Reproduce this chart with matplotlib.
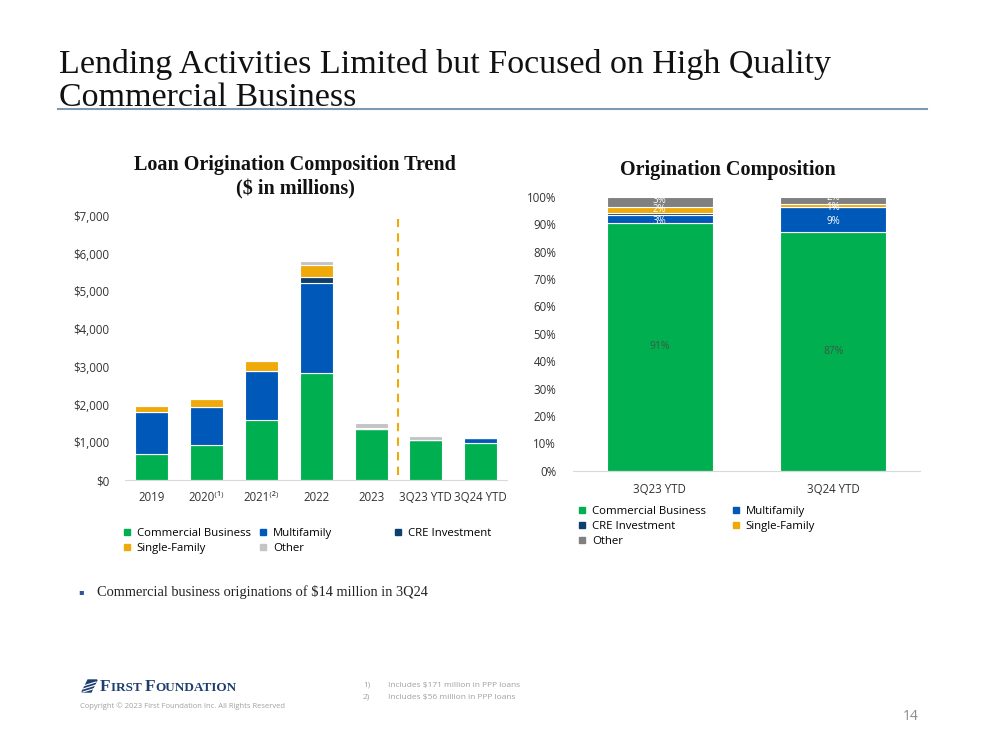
import numpy as np
import matplotlib
matplotlib.use('Agg')
import matplotlib.pyplot as plt
from matplotlib.patches import Polygon
from matplotlib.lines import Line2D

# Left chart: loan originations ($ millions)
periods = ['2019', '2020\u207d\u00b9\u207e', '2021\u207d\u00b2\u207e', '2022', '2023', '3Q23 YTD', '3Q24 YTD']
commercial = [700, 920, 1590, 2840, 1360, 1050, 990]
multifamily = [1100, 1010, 1310, 2385, 0, 0, 120]
cre_invest = [0, 0, 0, 165, 0, 0, 0]
single_fam = [160, 210, 260, 320, 30, 0, 0]
other = [0, 0, 0, 105, 110, 115, 0]

# Right chart: origination composition (%)
comp_periods = ['3Q23 YTD', '3Q24 YTD']
comp_commercial = [90.5, 87.3]
comp_multifamily = [2.8, 9.2]
comp_cre = [0.8, 0.0]
comp_single = [2.4, 0.8]
comp_other = [3.5, 2.7]
comp_labels = {
    'commercial': ['91%', '87%'],
    'multifamily': ['3%', '9%'],
    'single': ['2%', '1%'],
    'other': ['3%', '2%'],
}
# small nudges (in % points) so the thin-segment labels sit where the slide has them
label_nudge = {
    'multifamily': [-0.8, -0.9],
    'single': [0.0, -0.9],
    'other': [0.6, 1.0],
}

GREEN = '#00B050'
BLUE = '#0059B9'
NAVY = '#0F3F6E'
GOLD = '#EFAA0A'
LGRAY = '#C4C4C4'
DGRAY = '#808080'
SANS = ['Open Sans', 'DejaVu Sans']
SERIF = ['Liberation Serif', 'DejaVu Serif']

plt.rcParams['font.family'] = SANS

fig = plt.figure(figsize=(9.99, 7.5), dpi=100)

def fx(px):
    return px / 999.0

def fy(py):
    return 1 - py / 750.0

# page title
fig.text(fx(59), fy(73), 'Lending Activities Limited but Focused on High Quality',
         family=SERIF, fontsize=24.5, color='#111111', va='baseline')
fig.text(fx(59), fy(106), 'Commercial Business',
         family=SERIF, fontsize=24.5, color='#111111', va='baseline')
fig.add_artist(Line2D([fx(58), fx(927)], [fy(108.5), fy(108.5)], color='#7F9AB0', lw=1.5))

# ---------- left chart ----------
ax = fig.add_axes([fx(125), fy(480), fx(382), (480 - 216) / 750.0])
x = np.arange(len(periods))
w = 0.6
stack = [(commercial, GREEN), (multifamily, BLUE), (cre_invest, NAVY),
         (single_fam, GOLD), (other, LGRAY)]
bottom = np.zeros(len(periods))
for vals, col in stack:
    v = np.array(vals, dtype=float)
    ax.bar(x, v, w, bottom=bottom, color=col, edgecolor='white', linewidth=0.8)
    bottom += v

ax.axvline(4.5, ymin=0.02, ymax=0.99, color=GOLD, ls=(0, (4, 3)), lw=1.5)
ax.set_xlim(-0.49, 6.48)
ax.set_ylim(0, 7000)
ax.set_yticks(np.arange(0, 7001, 1000))
ax.set_yticklabels([f'${v:,.0f}' for v in np.arange(0, 7001, 1000)])
ax.set_xticks(x)
ax.set_xticklabels(periods)
for s in ['top', 'right', 'left']:
    ax.spines[s].set_visible(False)
ax.spines['bottom'].set_color('#D9D9D9')
ax.tick_params(axis='both', length=0, labelsize=8.3, colors='#333333')
ax.tick_params(axis='x', pad=8)
ax.tick_params(axis='y', pad=11)

fig.text(fx(295), fy(170), 'Loan Origination Composition Trend', family=SERIF,
         fontweight='bold', fontsize=14.5, ha='center', va='baseline', color='#111111')
fig.text(fx(295), fy(194), '($ in millions)', family=SERIF,
         fontweight='bold', fontsize=14.5, ha='center', va='baseline', color='#111111')

def handle(col):
    return Line2D([], [], marker='s', ls='none', markersize=5, color=col)

def legend_col(handles, labels, xpx, ypx):
    fig.legend(handles, labels, ncol=1, loc='upper left', bbox_to_anchor=(fx(xpx), fy(ypx)),
               frameon=False, fontsize=8.2, handlelength=0.8, handletextpad=0.5,
               labelspacing=0.35, borderaxespad=0, borderpad=0)

legend_col([handle(GREEN), handle(GOLD)], ['Commercial Business', 'Single-Family'], 122, 528)
legend_col([handle(BLUE), handle(LGRAY)], ['Multifamily', 'Other'], 258, 528)
legend_col([handle(NAVY)], ['CRE Investment'], 393, 528)

# ---------- right chart ----------
ax2 = fig.add_axes([fx(573), fy(470.7), fx(347), (470.7 - 197) / 750.0])
x2 = np.arange(len(comp_periods))
w2 = 0.61
cstack = [(comp_commercial, GREEN, 'commercial'),
          (comp_multifamily, BLUE, 'multifamily'),
          (comp_cre, NAVY, 'cre'),
          (comp_single, GOLD, 'single'),
          (comp_other, DGRAY, 'other')]
bottom = np.zeros(len(comp_periods))
for vals, col, key in cstack:
    v = np.array(vals, dtype=float)
    ax2.bar(x2, v, w2, bottom=bottom, color=col, edgecolor='white', linewidth=0.8)
    if key in comp_labels:
        for i in range(len(x2)):
            yc = bottom[i] + v[i] / 2 + label_nudge.get(key, [0, 0])[i]
            tcol = '#3D5A45' if key == 'commercial' else 'white'
            ax2.text(x2[i], yc, comp_labels[key][i], ha='center', va='center',
                     fontsize=7 if key != 'commercial' else 7.5, color=tcol)
    bottom += v

ax2.set_xlim(-0.5, 1.5)
ax2.set_ylim(0, 100)
ax2.set_yticks(np.arange(0, 101, 10))
ax2.set_yticklabels([f'{v}%' for v in range(0, 101, 10)])
ax2.set_xticks(x2)
ax2.set_xticklabels(comp_periods)
for s in ['top', 'right', 'left']:
    ax2.spines[s].set_visible(False)
ax2.spines['bottom'].set_color('#D9D9D9')
ax2.tick_params(axis='both', length=0, labelsize=8.3, colors='#333333')
ax2.tick_params(axis='x', pad=9)
ax2.tick_params(axis='y', pad=12)

fig.text(fx(728), fy(175), 'Origination Composition', family=SERIF,
         fontweight='bold', fontsize=14.5, ha='center', va='baseline', color='#111111')

legend_col([handle(GREEN), handle(NAVY), handle(DGRAY)],
           ['Commercial Business', 'CRE Investment', 'Other'], 577, 506)
legend_col([handle(BLUE), handle(GOLD)], ['Multifamily', 'Single-Family'], 731, 506)

# bullet
fig.text(fx(78), fy(592), '\u25aa', fontsize=6, color='#2F5597', va='center', family=['DejaVu Sans'])
fig.text(fx(97), fy(592), 'Commercial business originations of $14 million in 3Q24',
         family=SERIF, fontsize=10.4, va='center', color='#222222')

# footer logo: small-caps wordmark laid out piece by piece
logo_blue = '#1D3F6E'
fig.add_artist(Polygon([[fx(82), fy(692)], [fx(88), fy(680)], [fx(97), fy(680)], [fx(91), fy(692)]],
                       closed=True, color=logo_blue, transform=fig.transFigure))
for k in range(3):
    y0 = 683 + k * 3
    fig.add_artist(Line2D([fx(83), fx(96)], [fy(y0 + 3), fy(y0 - 1)], color='white', lw=0.8))
renderer = fig.canvas.get_renderer()
xpos = fx(100)
for piece, size in [('F', 12.5), ('IRST ', 9.5), ('F', 12.5), ('OUNDATION', 9.5)]:
    t = fig.text(xpos, fy(691), piece, family=SERIF, fontweight='bold', fontsize=size,
                 color=logo_blue, va='baseline')
    bb = t.get_window_extent(renderer)
    xpos += bb.width / fig.bbox.width
fig.text(fx(80), fy(706), 'Copyright \u00a9 2023 First Foundation Inc. All Rights Reserved',
         fontsize=5.5, color='#A0A0A0', va='center')
fig.text(fx(363), fy(685), '1)', fontsize=6, color='#A0A0A0', va='center')
fig.text(fx(388), fy(685), 'Includes $171 million in PPP loans', fontsize=6, color='#A0A0A0', va='center')
fig.text(fx(363), fy(697), '2)', fontsize=6, color='#A0A0A0', va='center')
fig.text(fx(388), fy(697), 'Includes $56 million in PPP loans', fontsize=6, color='#A0A0A0', va='center')
fig.text(fx(919), fy(716), '14', fontsize=10, color='#8C8C8C', ha='right', va='center')

fig.savefig('out.png', dpi=100)
